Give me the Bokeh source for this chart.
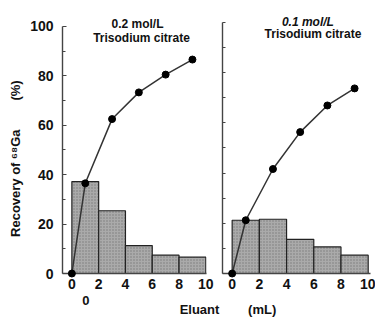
from bokeh.plotting import figure
from bokeh.models import FixedTicker, Label, Range1d
from bokeh.layouts import row
from bokeh.embed import file_html
from bokeh.resources import INLINE

# ---- data ----
edges = [0, 2, 4, 6, 8, 10]                      # eluant fractions (mL)
bars_02 = [37.2, 25.4, 11.3, 7.4, 6.6]           # 0.2 mol/L, recovery per fraction (%)
bars_01 = [21.2, 21.6, 13.6, 10.6, 7.3]          # 0.1 mol/L, recovery per fraction (%)
cum_x = [0, 1, 3, 5, 7, 9]                        # cumulative points x (mL)
cum_02 = [0, 36.5, 62.5, 73.3, 80.5, 86.6]        # 0.2 mol/L cumulative (%)
cum_01 = [0, 21.2, 41.6, 56.3, 66.9, 73.7]        # 0.1 mol/L cumulative (%)
x_ticks = [0, 2, 4, 6, 8, 10]
y_ticks = [0, 20, 40, 60, 80, 100]
y_minor = [10, 30, 50, 70, 90]

FONT = "Liberation Sans"
AX = "#444444"
INK = "#111111"
NB = "\u00a0"


def style(p, show_ylabels):
    p.grid.visible = False
    p.outline_line_color = None
    p.background_fill_color = "white"
    p.border_fill_color = "white"
    xa = p.xaxis[0]
    xa.ticker = FixedTicker(ticks=x_ticks)
    xa.major_tick_in = 0
    xa.major_tick_out = 0
    xa.minor_tick_line_color = None
    xa.axis_line_color = AX
    xa.axis_line_width = 1.4
    xa.major_label_text_font = FONT
    xa.major_label_text_font_style = "bold"
    xa.major_label_text_font_size = "14px"
    xa.major_label_text_color = INK
    xa.major_label_standoff = 5
    xa.axis_label_text_font = FONT
    xa.axis_label_text_font_style = "bold"
    xa.axis_label_text_font_size = "13px"
    xa.axis_label_text_color = INK
    xa.axis_label_text_line_height = 0.65
    xa.axis_label_standoff = 1
    ya = p.yaxis[0]
    ya.bounds = (0, 100)
    if show_ylabels:
        ya.ticker = FixedTicker(ticks=y_ticks, minor_ticks=y_minor)
    else:
        ya.ticker = FixedTicker(ticks=[], minor_ticks=sorted(y_ticks + y_minor))
    ya.major_tick_in = 4
    ya.major_tick_out = 0
    ya.minor_tick_in = 3
    ya.minor_tick_out = 0
    ya.major_tick_line_color = AX
    ya.minor_tick_line_color = AX
    ya.axis_line_color = AX
    ya.axis_line_width = 1.4
    ya.major_label_text_font = FONT
    ya.major_label_text_font_style = "bold"
    ya.major_label_text_font_size = "14px"
    ya.major_label_text_color = INK
    ya.major_label_standoff = 9 if show_ylabels else 0


def panel(p, bars, cum):
    p.quad(left=edges[:-1], right=edges[1:], top=bars, bottom=0,
           fill_color="#aaaaaa", line_color="#222222", line_width=1.2,
           hatch_pattern="dot", hatch_color="#666666", hatch_scale=3,
           hatch_weight=1, hatch_alpha=0.7)
    p.line(cum_x, cum, line_color="#333333", line_width=1.5, level="overlay")
    p.scatter(cum_x, cum, size=7, fill_color="black", line_color="black",
              level="overlay")


def text(p, x, y, s, size="12px", style="bold", align="center"):
    p.add_layout(Label(x=x, y=y, text=s, text_font=FONT, text_font_style=style,
                       text_font_size=size, text_align=align, text_baseline="middle",
                       text_color=INK))


# ---- left panel: 0.2 mol/L ----
p1 = figure(width=220, height=320, x_range=Range1d(-0.7, 10.05), y_range=Range1d(0, 110.5),
            output_backend="svg", toolbar_location=None,
            min_border_left=62, min_border_right=14, min_border_top=0, min_border_bottom=46)
style(p1, True)
panel(p1, bars_02, cum_02)
ya = p1.yaxis[0]
ya.axis_label = "Recovery of \u2076\u2078Ga" + NB * 8 + "(%)" + NB * 12
ya.axis_label_text_font = FONT
ya.axis_label_text_font_style = "bold"
ya.axis_label_text_font_size = "13px"
ya.axis_label_text_color = INK
ya.axis_label_standoff = 4
# stray "0" under the first panel and the first word of the shared x label
p1.xaxis[0].axis_label = "0" + NB * 27 + "\n" + NB * 36 + "Eluant"

text(p1, 4.9, 100.8, "0.2 mol/L")
text(p1, 5.2, 95.2, "Trisodium citrate")

# ---- right panel: 0.1 mol/L ----
p2 = figure(width=155, height=320, x_range=Range1d(-0.71, 10.17), y_range=Range1d(0, 108.7),
            output_backend="svg", toolbar_location=None,
            min_border_left=2, min_border_right=5, min_border_top=0, min_border_bottom=46)
style(p2, False)
panel(p2, bars_01, cum_01)
p2.xaxis[0].axis_label = NB + "\n" + "(mL)" + NB * 19
text(p2, 5.57, 100.2, "0.1 mol/L", style="bold italic")
text(p2, 5.94, 95.2, "Trisodium citrate")

layout = row(p1, p2)
open("out.html", "w").write(file_html(layout, INLINE))
